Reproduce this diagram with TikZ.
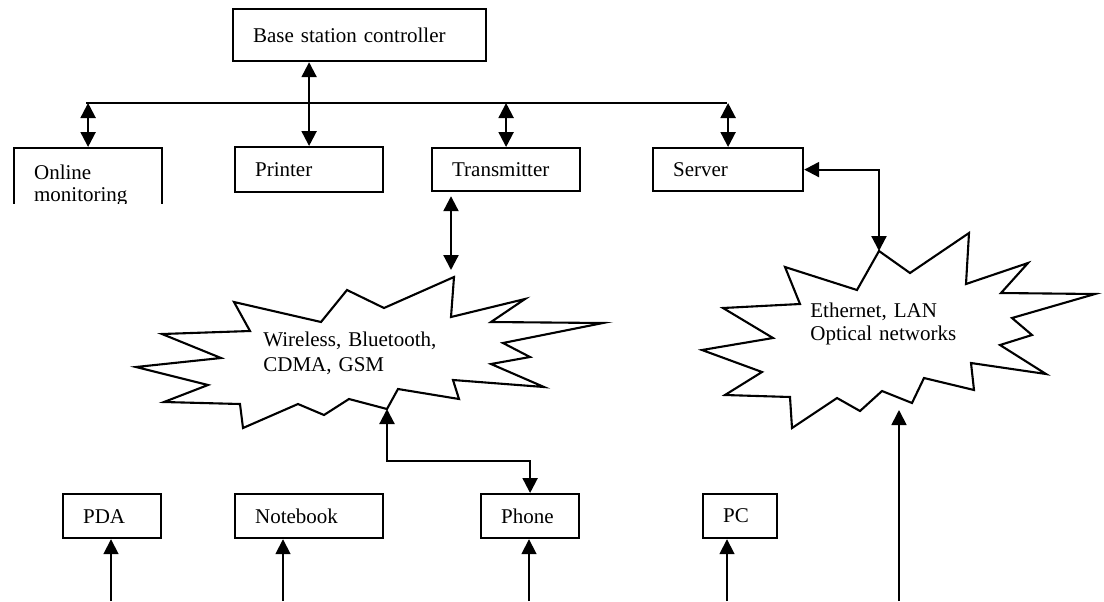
\documentclass[tikz,border=0pt]{standalone}
\usepackage{fontspec}
\setmainfont{Liberation Serif}
\usetikzlibrary{arrows.meta,calc}
\begin{document}
\begin{tikzpicture}[x=0.5pt,y=-0.5pt,
  tip/.tip={Triangle[length=7.5pt,width=7.5pt]},
  box/.style={draw, line width=1.1pt, anchor=north west, inner xsep=10pt, inner ysep=0pt,
    align=left, font=\fontsize{10.5}{12}\selectfont},
  wire/.style={line width=1.1pt},
  link/.style={line width=1.1pt, -tip},
  dlink/.style={line width=1.1pt, tip-tip},
  thin link/.style={line width=0.9pt, -tip},
  cloud/.style={draw, line width=1.05pt, line join=miter},
  lbl/.style={anchor=base west, align=left, inner sep=0pt}
]
\useasboundingbox (0,0) rectangle (1104,601);

% top boxes
\node[box, minimum width=126.5pt, minimum height=26pt, text width=106.5pt] (bsc) at (232,8) {Base station controller};
\node[box, minimum width=74pt, minimum height=22.5pt, text width=54pt] (printer) at (234,146) {Printer};
\node[box, minimum width=74pt, minimum height=21.5pt, text width=54pt] (trans) at (431,147) {Transmitter};
\node[box, minimum width=75pt, minimum height=21.5pt, text width=55pt] (server) at (652,147) {Server};
\begin{scope}
  \clip (0,0) rectangle (1104,203);
  \node[box, minimum width=74pt, text width=54pt, inner ysep=8.3pt,
        font=\fontsize{10.5}{11}\selectfont] (online) at (13,147) {Online\\monitoring};
\end{scope}

% bottom boxes
\node[box, minimum width=49pt, minimum height=22pt, text width=29pt] (pda) at (62,493) {PDA};
\node[box, minimum width=74pt, minimum height=22pt, text width=54pt] (notebook) at (234,493) {Notebook};
\node[box, minimum width=49pt, minimum height=22pt, text width=29pt] (phone) at (480,493) {Phone};
\node[box, minimum width=37pt, minimum height=22pt, text width=17pt] (pc) at (702,493) {PC};

% wireless burst
\coordinate (w1) at (454,277);
\coordinate (w13) at (387,409);
\draw[cloud] (w1) -- (451,317) -- (525,299) -- (491,322) -- (603,323) -- (503,343) -- (530,357)
  -- (491,364) -- (544,387) -- (453,380) -- (459,399) -- (398,389) -- (w13) -- (349,399)
  -- (324,415) -- (298,404) -- (243,428) -- (240,404) -- (164,402) -- (208,385) -- (136,367)
  -- (221,358) -- (162,334) -- (250,331) -- (234,302) -- (321,322) -- (347,290) -- (384,308) -- cycle;
\node[lbl, text width=95pt, font=\fontsize{10.5}{12.5}\selectfont] (wtext) at (263,346) {Wireless, Bluetooth,\\CDMA, GSM};

% ethernet burst
\coordinate (e1) at (879,251);
\draw[cloud] (e1) -- (910,273) -- (969,233) -- (966,284) -- (1028,263) -- (1001,293) -- (1095,294)
  -- (1012,318) -- (1032,335) -- (1000,345) -- (1046,374) -- (971,363) -- (974,390) -- (924,378)
  -- (912,403) -- (882,391) -- (860,411) -- (837,398) -- (792,428) -- (790,397) -- (725,395)
  -- (762,372) -- (702,350) -- (773,338) -- (723,308) -- (800,304) -- (785,267) -- (857,290) -- cycle;
\node[lbl, text width=80pt, font=\fontsize{10.5}{11.5}\selectfont] (etext) at (810,317) {Ethernet, LAN\\Optical networks};

% bus and top connectors
\coordinate (busL) at (86,103);
\coordinate (busR) at (727,103);
\draw[wire] (busL) -- (busR);
\draw[dlink] (online.north |- busL) -- (online.north);
\draw[dlink] (printer.north |- bsc.south) -- (printer.north);
\draw[dlink] (trans.north |- busL) -- (trans.north);
\draw[dlink] (server.north |- busR) -- (server.north);

% transmitter to wireless
\coordinate (tb) at ([shift={(20,4)}]trans.south west);
\draw[dlink] (tb) -- ($(tb |- w1)+(0,-7)$);

% server to ethernet
\draw[dlink] (server.east) -| (e1);

% wireless to phone
\draw[dlink] (w13) |- (phone.north |- 0,461) -- (phone.north);

% bottom feeds
\coordinate (pdaB) at (111,601);
\coordinate (nbB) at (283,601);
\coordinate (phB) at (529,601);
\coordinate (pcB) at (727,601);
\coordinate (ethB) at (899,601);
\coordinate (ethT) at (899,410);
\draw[thin link] (pdaB) -- (pdaB |- pda.south);
\draw[thin link] (nbB) -- (nbB |- notebook.south);
\draw[thin link] (phB) -- (phB |- phone.south);
\draw[thin link] (pcB) -- (pcB |- pc.south);
\draw[thin link] (ethB) -- (ethT);
\end{tikzpicture}
\end{document}
